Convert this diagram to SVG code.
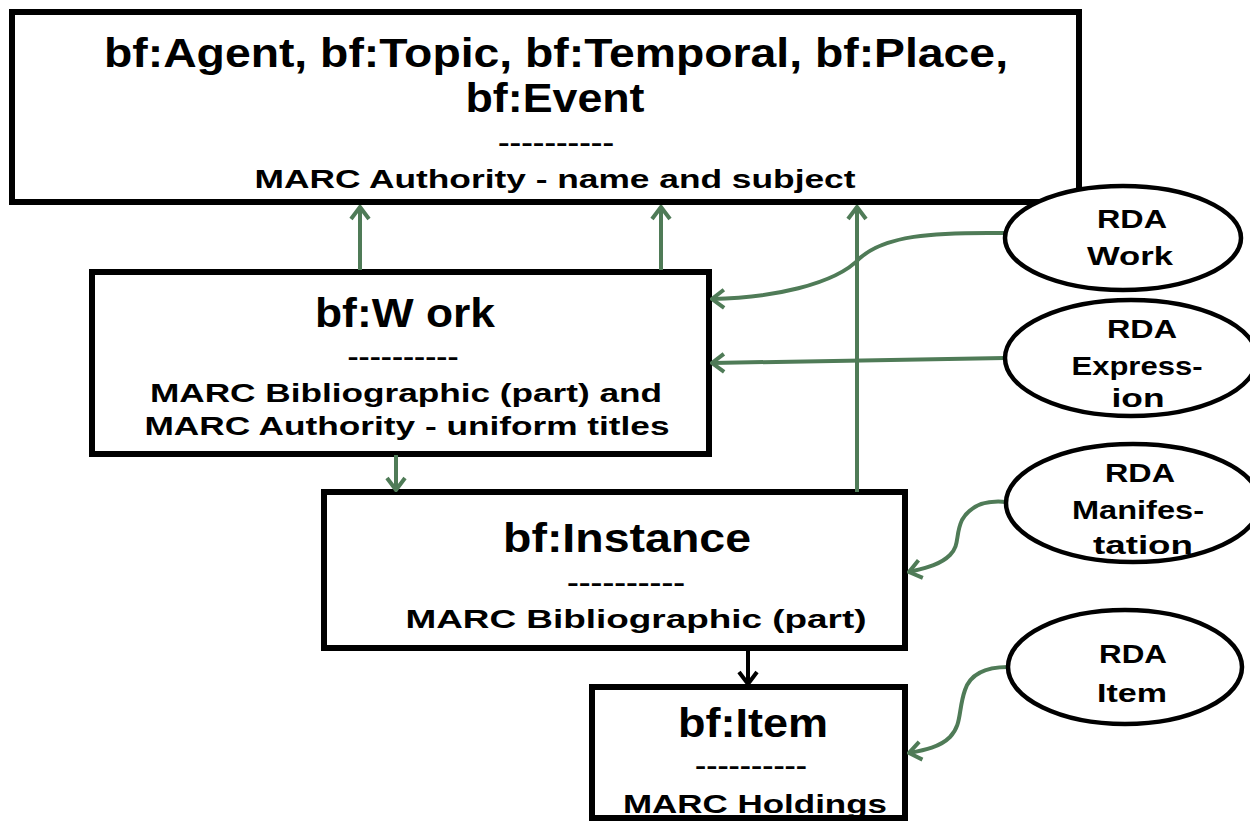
<svg xmlns="http://www.w3.org/2000/svg" width="1250" height="821" viewBox="0 0 1250 821">
<style>
.box{fill:#fff;stroke:#000;stroke-width:6}
.ell{fill:#fff;stroke:#000;stroke-width:4.5}
text{font-family:"Liberation Sans",Arial,sans-serif;font-weight:bold;fill:#000;text-anchor:middle}
.t{font-size:40px}
.m{font-size:25px}
.d{font-size:24px}
.r{font-size:26px}
.g{fill:none;stroke:#4f7b57;stroke-width:4}
.k{fill:none;stroke:#000;stroke-width:4}
</style>
<defs>
<marker id="ag" viewBox="-16 -12 18 24" refX="0" refY="0" markerWidth="18" markerHeight="24" markerUnits="userSpaceOnUse" orient="auto">
<path d="M-12,-9 L0,0 L-12,9" fill="none" stroke="#4f7b57" stroke-width="4"/>
</marker>
<marker id="ak" viewBox="-16 -12 18 24" refX="0" refY="0" markerWidth="18" markerHeight="24" markerUnits="userSpaceOnUse" orient="auto">
<path d="M-12,-9 L0,0 L-12,9" fill="none" stroke="#000" stroke-width="4"/>
</marker>
</defs>
<g id="authority">
<rect class="box" x="12" y="12" width="1067" height="190"/>
<text class="t" x="556" y="67" textLength="904" lengthAdjust="spacingAndGlyphs">bf:Agent, bf:Topic, bf:Temporal, bf:Place,</text>
<text class="t" x="555" y="112" textLength="179" lengthAdjust="spacingAndGlyphs">bf:Event</text>
<text class="d" x="556" y="151" textLength="116" lengthAdjust="spacingAndGlyphs">----------</text>
<text class="m" x="555" y="188" textLength="601" lengthAdjust="spacingAndGlyphs">MARC Authority - name and subject</text>
</g>
<g id="work">
<rect class="box" x="92" y="272" width="617" height="182"/>
<text class="t" x="405" y="327" textLength="180" lengthAdjust="spacingAndGlyphs">bf:W ork</text>
<text class="d" x="403" y="365" textLength="111" lengthAdjust="spacingAndGlyphs">----------</text>
<text class="m" x="406" y="402" textLength="512" lengthAdjust="spacingAndGlyphs">MARC Bibliographic (part) and</text>
<text class="m" x="407" y="435" textLength="525" lengthAdjust="spacingAndGlyphs">MARC Authority - uniform titles</text>
</g>
<g id="instance">
<rect class="box" x="324" y="492" width="581" height="156"/>
<text class="t" x="627" y="552" textLength="248" lengthAdjust="spacingAndGlyphs">bf:Instance</text>
<text class="d" x="626" y="591" textLength="118" lengthAdjust="spacingAndGlyphs">----------</text>
<text class="m" x="636" y="628" textLength="461" lengthAdjust="spacingAndGlyphs">MARC Bibliographic (part)</text>
</g>
<g id="item">
<rect class="box" x="592" y="687" width="313" height="131"/>
<text class="t" x="753" y="737" textLength="150" lengthAdjust="spacingAndGlyphs">bf:Item</text>
<text class="d" x="751" y="774" textLength="112" lengthAdjust="spacingAndGlyphs">----------</text>
<text class="m" x="755" y="813" textLength="264" lengthAdjust="spacingAndGlyphs">MARC Holdings</text>
</g>
<g id="connectors">
<path class="g" d="M360,270 L360,207" marker-end="url(#ag)"/>
<path class="g" d="M661,270 L661,207" marker-end="url(#ag)"/>
<path class="g" d="M857,492 L857,207" marker-end="url(#ag)"/>
<path class="g" d="M396,455 L396,490" marker-end="url(#ag)"/>
<path class="k" d="M748,648 L748,684" marker-end="url(#ak)"/>
<path class="g" d="M1005,233 C930,232 885,236 860,258 C835,285 770,298 712,299" marker-end="url(#ag)"/>
<path class="g" d="M1005,358 L712,363" marker-end="url(#ag)"/>
<path class="g" d="M1006,502 C985,500 970,506 962,520 C955,535 960,545 950,555 C940,565 925,568 909,572" marker-end="url(#ag)"/>
<path class="g" d="M1008,667 C985,667 970,675 965,690 C958,710 962,725 950,737 C940,747 925,750 909,753" marker-end="url(#ag)"/>
</g>
<g id="rda-work">
<ellipse class="ell" cx="1123" cy="238" rx="118" ry="52"/>
<text class="r" x="1132" y="228" textLength="70" lengthAdjust="spacingAndGlyphs">RDA</text>
<text class="r" x="1130" y="265" textLength="86" lengthAdjust="spacingAndGlyphs">Work</text>
</g>
<g id="rda-expression">
<ellipse class="ell" cx="1131" cy="358" rx="126" ry="58"/>
<text class="r" x="1142" y="338" textLength="70" lengthAdjust="spacingAndGlyphs">RDA</text>
<text class="r" x="1137" y="375" textLength="131" lengthAdjust="spacingAndGlyphs">Express-</text>
<text class="r" x="1138" y="407" textLength="53" lengthAdjust="spacingAndGlyphs">ion</text>
</g>
<g id="rda-manifestation">
<ellipse class="ell" cx="1133" cy="503" rx="127" ry="59"/>
<text class="r" x="1140" y="482" textLength="70" lengthAdjust="spacingAndGlyphs">RDA</text>
<text class="r" x="1138" y="519" textLength="132" lengthAdjust="spacingAndGlyphs">Manifes-</text>
<text class="r" x="1143" y="554" textLength="100" lengthAdjust="spacingAndGlyphs">tation</text>
</g>
<g id="rda-item">
<ellipse class="ell" cx="1125" cy="667" rx="117" ry="57"/>
<text class="r" x="1133" y="663" textLength="68" lengthAdjust="spacingAndGlyphs">RDA</text>
<text class="r" x="1132" y="702" textLength="70" lengthAdjust="spacingAndGlyphs">Item</text>
</g>
</svg>
